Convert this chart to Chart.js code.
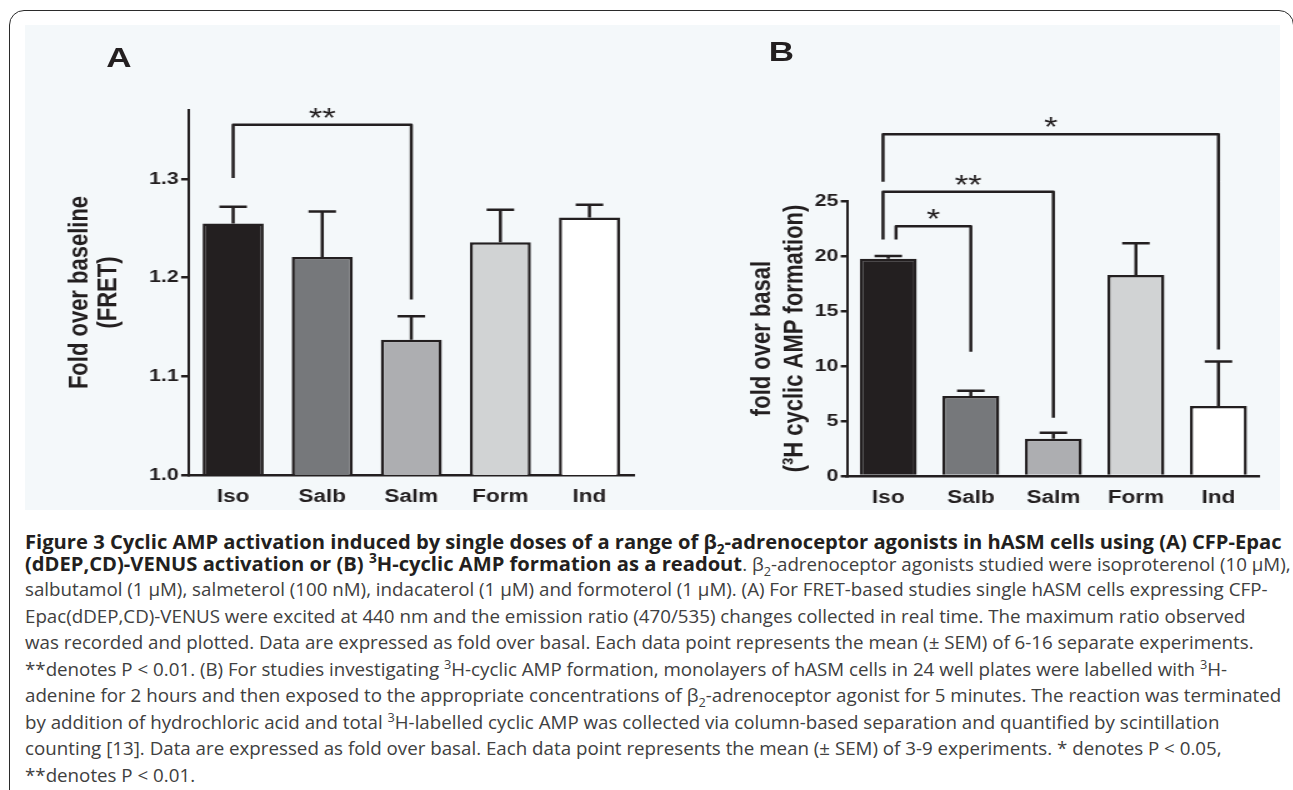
<!DOCTYPE html>
<html>
<head>
<meta charset="utf-8">
<script src="https://cdn.jsdelivr.net/npm/chart.js@4.4.1/dist/chart.umd.min.js"></script>
<style>
  html, body { margin: 0; padding: 0; background: #fff; width: 1293px; height: 790px; overflow: hidden; }
  #frame { position: absolute; left: 9px; top: 10px; width: 1285px; height: 900px;
           border: 1.5px solid #2b2b2b; border-radius: 15px; box-sizing: border-box; }
  #panel { position: absolute; left: 25px; top: 25px; width: 1255px; height: 485px; background: #f4f8fa; }
  .wrap  { position: absolute; top: 25px; transform: scaleX(1.25); transform-origin: 0 0; }
  .wrap canvas { display: block; }
  .plabel { position: absolute; font: bold 28px/28px "Liberation Sans", Arial, sans-serif; color: #231f20; }
  .cap { position: absolute; left: 25px; white-space: nowrap; font-family: "Open Sans", sans-serif;
         font-size: 16px; line-height: 20px; color: #404040; }
  .cap b { color: #231f20; font-size: 16px; }
  sup, sub { font-size: 68%; line-height: 0; }
</style>
</head>
<body>
<div id="frame"></div>
<div id="panel"></div>

<div class="wrap" style="left:25px">
  <div class="plabel" style="left:65px;top:19px">A</div>
  <canvas id="chartA" width="500" height="485"></canvas>
</div>
<div class="wrap" style="left:650px">
  <div class="plabel" style="left:95px;top:13px">B</div>
  <canvas id="chartB" width="504" height="485"></canvas>
</div>

<div class="cap" id="l1" style="top:531px"><b>Figure 3 Cyclic AMP activation induced by single doses of a range of β<sub>2</sub>-adrenoceptor agonists in hASM cells using (A) CFP-Epac</b></div>
<div class="cap" style="top:553px"><b>(dDEP,CD)-VENUS activation or (B) <sup>3</sup>H-cyclic AMP formation as a readout</b>. β<sub>2</sub>-adrenoceptor agonists studied were isoproterenol (10 μM),</div>
<div class="cap" style="top:579px">salbutamol (1 μM), salmeterol (100 nM), indacaterol (1 μM) and formoterol (1 μM). (A) For FRET-based studies single hASM cells expressing CFP-</div>
<div class="cap" style="top:605.5px">Epac(dDEP,CD)-VENUS were excited at 440 nm and the emission ratio (470/535) changes collected in real time. The maximum ratio observed</div>
<div class="cap" style="top:632px">was recorded and plotted. Data are expressed as fold over basal. Each data point represents the mean (± SEM) of 6-16 separate experiments.</div>
<div class="cap" style="top:658.5px">**denotes P &lt; 0.01. (B) For studies investigating <sup>3</sup>H-cyclic AMP formation, monolayers of hASM cells in 24 well plates were labelled with <sup>3</sup>H-</div>
<div class="cap" id="l7" style="top:685px">adenine for 2 hours and then exposed to the appropriate concentrations of β<sub>2</sub>-adrenoceptor agonist for 5 minutes. The reaction was terminated</div>
<div class="cap" style="top:711.5px">by addition of hydrochloric acid and total <sup>3</sup>H-labelled cyclic AMP was collected via column-based separation and quantified by scintillation</div>
<div class="cap" style="top:738px">counting [13]. Data are expressed as fold over basal. Each data point represents the mean (± SEM) of 3-9 experiments. * denotes P &lt; 0.05,</div>
<div class="cap" style="top:764.5px">**denotes P &lt; 0.01.</div>

<script>
const categories = ['Iso', 'Salb', 'Salm', 'Form', 'Ind'];

// panel A: FRET, fold over baseline
const fretMean  = [1.255, 1.221, 1.137, 1.236, 1.261];
const fretSem   = [0.017, 0.046, 0.024, 0.033, 0.013];
const fretTicks = [1.0, 1.1, 1.2, 1.3];
// [from, to, left leg start, bracket height, right leg end, label]
const fretSig   = [[0, 2, 1.301, 1.355, 1.178, '**']];

// panel B: 3H cyclic AMP, fold over basal
const campMean  = [19.75, 7.27, 3.39, 18.27, 6.36];
const campSem   = [0.25, 0.48, 0.55, 2.88, 4.04];
const campTicks = [0, 5, 10, 15, 20, 25];
const campSig   = [
  [0, 1, 21.5, 22.7, 11.3, '*'],
  [0, 2, 21.5, 25.85, 5.3, '**'],
  [0, 4, 26.75, 31.06, 11.5, '*']
];

const INK = '#231f20';
const fills = ['#231f20', '#76787b', '#adaeb1', '#d1d3d4', '#ffffff'];
const FONT = '"Liberation Sans", Arial, sans-serif';

const errorBars = {
  id: 'errorBars',
  afterDatasetsDraw(chart, args, opts) {
    const ctx = chart.ctx, y = chart.scales.y;
    const meta = chart.getDatasetMeta(0);
    const mean = chart.data.datasets[0].data;
    ctx.save();
    ctx.strokeStyle = INK;
    ctx.lineWidth = 2.5;
    opts.sem.forEach((e, i) => {
      const bar = meta.data[i];
      const top = y.getPixelForValue(mean[i] + e);
      ctx.beginPath();
      ctx.moveTo(bar.x, bar.y);
      ctx.lineTo(bar.x, top);
      ctx.moveTo(bar.x - opts.cap, top);
      ctx.lineTo(bar.x + opts.cap, top);
      ctx.stroke();
    });
    ctx.restore();
  }
};

const brackets = {
  id: 'brackets',
  afterDraw(chart, args, opts) {
    const {ctx, scales: {x, y}} = chart;
    ctx.save();
    ctx.strokeStyle = INK;
    ctx.fillStyle = INK;
    ctx.lineWidth = 2.5;
    ctx.lineJoin = 'round';
    ctx.font = '28px ' + FONT;
    ctx.textAlign = 'center';
    ctx.textBaseline = 'alphabetic';
    opts.list.forEach(([a, b, y0, y1, y2, label], k) => {
      const xa = x.getPixelForTick(a) + (opts.nudge[k] || 0);
      const xb = x.getPixelForTick(b);
      const top = y.getPixelForValue(y1);
      ctx.beginPath();
      ctx.moveTo(xa, y.getPixelForValue(y0));
      ctx.lineTo(xa, top);
      ctx.lineTo(xb, top);
      ctx.lineTo(xb, y.getPixelForValue(y2));
      ctx.stroke();
      ctx.fillText(label, (xa + xb) / 2, top + 2);
    });
    ctx.restore();
  }
};

function makeChart(id, p) {
  return new Chart(document.getElementById(id), {
    type: 'bar',
    data: {
      labels: categories,
      datasets: [{
        data: p.mean,
        backgroundColor: fills,
        borderColor: INK,
        borderWidth: 2.5,
        borderSkipped: 'start',
        categoryPercentage: 1,
        barPercentage: p.barPct
      }]
    },
    plugins: [errorBars, brackets],
    options: {
      responsive: false,
      animation: false,
      layout: { padding: p.padding },
      plugins: {
        legend: { display: false },
        tooltip: { enabled: false },
        errorBars: { sem: p.sem, cap: 11 },
        brackets: { list: p.sig, nudge: p.nudge }
      },
      scales: {
        x: {
          afterFit: s => { s.height = p.xHeight; },
          grid: { display: true, drawOnChartArea: false, drawTicks: false },
          border: { display: true, color: INK, width: 2.5 },
          ticks: { color: INK, padding: 11, font: { family: FONT, size: 18, weight: 'bold' } }
        },
        y: {
          min: p.min, max: p.max,
          afterFit: s => { s.width = p.yWidth; },
          afterBuildTicks: s => { s.ticks = p.ticks.map(v => ({ value: v })); },
          grid: { display: true, drawOnChartArea: false, drawTicks: true, tickLength: p.tickLen,
                  color: INK, lineWidth: 2.5 },
          border: { display: true, color: INK, width: 2 },
          ticks: { color: INK, padding: 2, font: { family: FONT, size: 17, weight: 'bold' },
                   callback: v => p.fmt(v) },
          title: { display: true, text: p.title, color: INK,
                   font: { family: FONT, size: 22, weight: 'bold', lineHeight: p.titleLH },
                   padding: { top: p.titlePad, bottom: 0 } }
        }
      }
    }
  });
}

makeChart('chartA', {
  mean: fretMean, sem: fretSem, ticks: fretTicks, sig: fretSig, nudge: [0],
  min: 1.0, max: 1.37, fmt: v => v.toFixed(1),
  barPct: 0.685, tickLen: 6,
  padding: { left: 0, right: 12.8, top: 85, bottom: 0 },
  yWidth: 130.9, xHeight: 35,
  title: ['Fold over baseline', '(FRET)'], titleLH: 1.02, titlePad: 32.8
});

makeChart('chartB', {
  mean: campMean, sem: campSem, ticks: campTicks, sig: campSig, nudge: [6.2, -4.2, -4.2],
  min: 0, max: 25, fmt: v => String(v),
  barPct: 0.69, tickLen: 5,
  padding: { left: 0, right: 16.2, top: 176, bottom: 0 },
  yWidth: 157.6, xHeight: 34,
  title: ['fold over basal', '(³H cyclic AMP formation)'], titleLH: 1.18, titlePad: 76.6
});

// fit the caption: bold run from line 1, regular run from line 7 (both end near x=1282)
const wBold = document.getElementById('l1').getBoundingClientRect().width;
const wReg  = document.getElementById('l7').getBoundingClientRect().width;
const fsBold = 16 * 1257 / wBold;
const fsReg  = 16 * 1257 / wReg;
document.querySelectorAll('.cap').forEach(el => { el.style.fontSize = fsReg + 'px'; });
document.querySelectorAll('.cap b').forEach(el => { el.style.fontSize = fsBold + 'px'; });
</script>
</body>
</html>
